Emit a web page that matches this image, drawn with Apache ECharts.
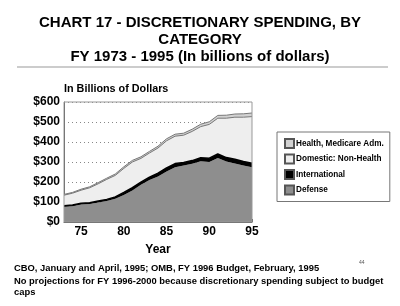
<!DOCTYPE html>
<html>
<head>
<meta charset="utf-8">
<script src="https://cdn.jsdelivr.net/npm/echarts@6/dist/echarts.min.js"></script>
<style>
  html, body { margin: 0; padding: 0; background: #fff; }
  #chart { width: 400px; height: 306px; }
</style>
</head>
<body>
<div id="chart"></div>
<script>
// FY 1973 - 1995, billions of dollars
const years = ['1973', '1974', '1975', '1976', '1977', '1978', '1979', '1980', '1981', '1982', '1983',
  '1984', '1985', '1986', '1987', '1988', '1989', '1990', '1991', '1992', '1993', '1994', '1995']
const defense = [76, 79, 87, 90, 97, 105, 116, 135, 158, 186, 210, 228, 253, 274, 282, 291, 304, 300, 320, 303, 292, 282, 274]
const international = [5, 6, 7, 6, 8, 8, 9, 13, 14, 13, 14, 16, 17, 18, 15, 16, 17, 19, 20, 19, 22, 21, 20]
const domestic = [53, 59, 65, 75, 86, 100, 108, 120, 128, 119, 121, 126, 136, 137, 137, 146, 156, 169, 179, 197, 210, 221, 233]
const health = [4, 4, 5, 5, 6, 6, 7, 8, 8, 8, 8, 9, 10, 10, 10, 11, 12, 13, 14, 15, 16, 17, 18]
const yTicks = [0, 100, 200, 300, 400, 500, 600]

const font = '"Liberation Sans", Arial, sans-serif'
const chart = echarts.init(document.getElementById('chart'))

const area = (name, data, fill, line) => ({
  name: name,
  type: 'line',
  stack: 'total',
  data: data,
  symbol: 'none',
  smooth: false,
  lineStyle: line ? { color: line.color, width: line.width } : { width: 0 },
  areaStyle: { color: fill, opacity: 1 },
  itemStyle: { color: fill, borderColor: '#555', borderWidth: 1 }
})

chart.setOption({
  animation: false,
  textStyle: { fontFamily: font },
  grid: { left: 64, right: 148, top: 102, bottom: 84 },
  legend: {
    orient: 'vertical',
    left: 277,
    top: 132,
    padding: [6, 6, 6, 7],
    itemGap: 4.5,
    itemWidth: 9,
    itemHeight: 9,
    icon: 'rect',
    borderColor: '#777',
    borderWidth: 1,
    data: ['Health, Medicare Adm.', 'Domestic: Non-Health', 'International', 'Defense'],
    textStyle: { fontSize: 8.2, fontWeight: 'bold', color: '#000', padding: [0, 0, 0, -3] }
  },
  xAxis: {
    type: 'category',
    data: years,
    boundaryGap: false,
    axisLine: { lineStyle: { color: '#555' } },
    axisTick: { interval: 0, length: 3, inside: true, lineStyle: { color: '#555' } },
    axisLabel: {
      interval: (i, v) => Number(v) % 5 === 0,
      formatter: v => v.slice(2),
      color: '#000',
      fontSize: 12,
      fontWeight: 'bold',
      margin: 4
    },
    name: 'Year',
    nameLocation: 'middle',
    nameGap: 22,
    nameTextStyle: { fontSize: 12, fontWeight: 'bold', color: '#000' }
  },
  yAxis: {
    type: 'value',
    min: yTicks[0],
    max: yTicks[yTicks.length - 1],
    interval: 100,
    axisLine: { show: true, lineStyle: { color: '#555' } },
    axisTick: { show: false },
    axisLabel: {
      formatter: v => '$' + v,
      color: '#000',
      fontSize: 12,
      fontWeight: 'bold',
      margin: 4
    },
    splitLine: {
      show: true,
      lineStyle: { type: [1, 3], color: '#888' }
    }
  },
  graphic: [
    { type: 'text', left: 'center', top: 15, style: { text: 'CHART 17 - DISCRETIONARY SPENDING, BY', font: 'bold 15px ' + font, fill: '#000' } },
    { type: 'text', left: 'center', top: 32, style: { text: 'CATEGORY', font: 'bold 15px ' + font, fill: '#000' } },
    { type: 'text', left: 'center', top: 49, style: { text: 'FY 1973 - 1995 (In billions of dollars)', font: 'bold 15px ' + font, fill: '#000' } },
    { type: 'line', shape: { x1: 17, y1: 67, x2: 388, y2: 67 }, style: { stroke: '#999', lineWidth: 1 } },
    { type: 'text', left: 64, top: 84, style: { text: 'In Billions of Dollars', font: 'bold 10.8px ' + font, fill: '#000' } },
    { type: 'rect', shape: { x: 64, y: 102, width: 188, height: 120 }, style: { fill: 'none', stroke: '#999', lineWidth: 1 }, silent: true, z: 10 },
    { type: 'text', left: 14, top: 264, style: { text: 'CBO, January and April, 1995; OMB, FY 1996 Budget, February, 1995', font: 'bold 9.4px ' + font, fill: '#000' } },
    { type: 'text', left: 14, top: 277, style: { text: 'No projections for FY 1996-2000 because discretionary spending subject to budget', font: 'bold 9.4px ' + font, fill: '#000' } },
    { type: 'text', left: 14, top: 288, style: { text: 'caps', font: 'bold 9.4px ' + font, fill: '#000' } },
    { type: 'text', left: 359, top: 260, style: { text: '44', font: '5px ' + font, fill: '#555' } }
  ],
  series: [
    area('Defense', defense, '#8e8e8e'),
    area('International', international, '#000000', { color: '#000', width: 1.5 }),
    area('Domestic: Non-Health', domestic, '#eeeeee', { color: '#777', width: 1 }),
    area('Health, Medicare Adm.', health, '#d2d2d2', { color: '#777', width: 1 })
  ]
})
</script>
</body>
</html>
